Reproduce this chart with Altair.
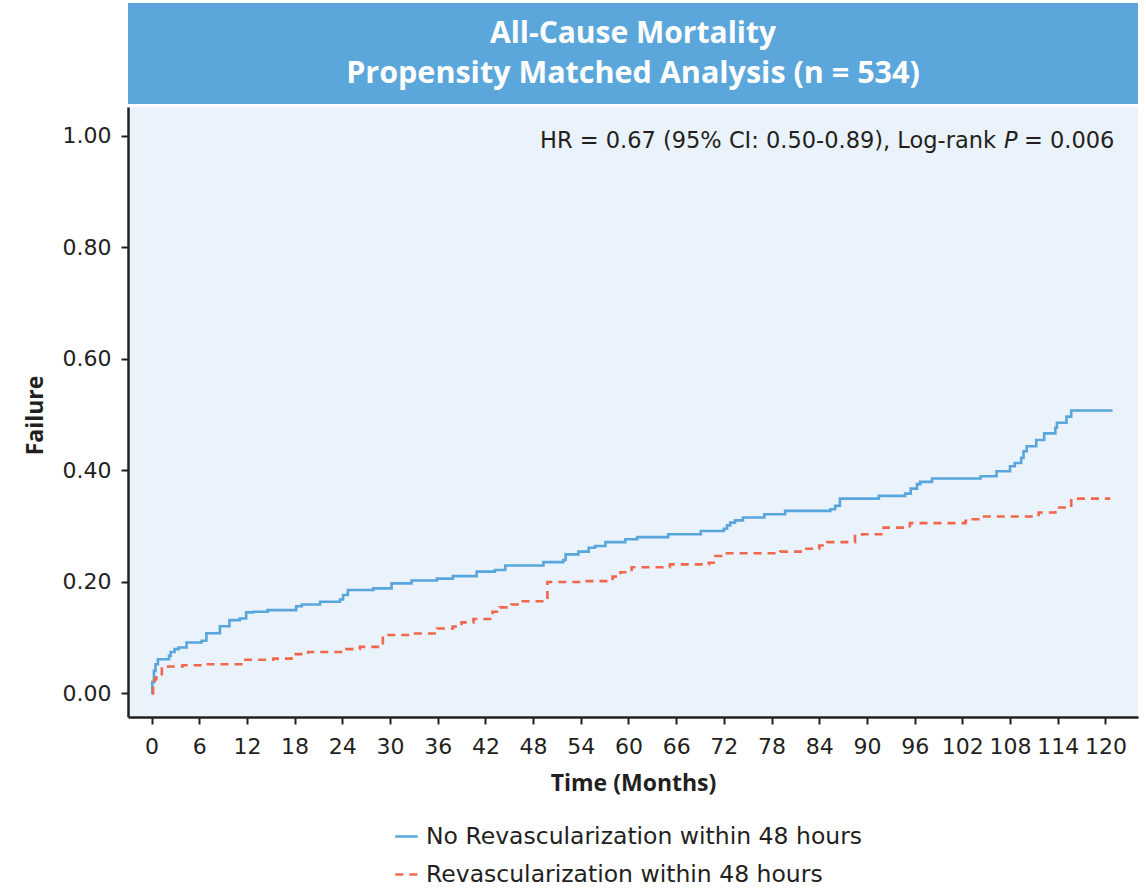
import altair as alt
import pandas as pd

# ---- data (months, cumulative failure) ----
no_rev_t = [0, 0.1, 0.3, 0.5, 0.8, 2.2, 2.4, 2.9, 3.4, 4.4, 6.3, 6.9, 8.6, 9.8, 11.1, 11.9, 12.8,
            14.6, 18.2, 18.9, 21.2, 23.7, 24.1, 24.7, 27.9, 30.2, 32.7, 35.9, 37.9, 40.9, 43.2,
            44.5, 49.3, 51.8, 52.1, 53.7, 55.0, 55.8, 57.1, 59.6, 61.1, 65.0, 69.1, 72.0, 72.4,
            72.8, 73.4, 74.4, 77.1, 79.7, 85.4, 86.0, 86.6, 91.5, 94.8, 95.5, 96.3, 96.7, 98.2,
            104.3, 106.3, 108.0, 108.6, 109.4, 109.7, 110.1, 111.3, 112.3, 113.7, 113.9, 115.1,
            115.7, 120.9]
no_rev_f = [0.0, 0.02, 0.04, 0.052, 0.061, 0.067, 0.074, 0.079, 0.082, 0.091, 0.094, 0.1075, 0.12,
            0.131, 0.134, 0.145, 0.146, 0.149, 0.156, 0.159, 0.164, 0.168, 0.176, 0.185, 0.188,
            0.197, 0.202, 0.2055, 0.210, 0.218, 0.221, 0.229, 0.235, 0.239, 0.249, 0.254, 0.261,
            0.264, 0.271, 0.276, 0.280, 0.285, 0.291, 0.295, 0.301, 0.306, 0.310, 0.315, 0.321,
            0.327, 0.330, 0.336, 0.349, 0.354, 0.358, 0.367, 0.375, 0.379, 0.385, 0.389, 0.398,
            0.407, 0.413, 0.422, 0.434, 0.443, 0.454, 0.466, 0.476, 0.485, 0.496, 0.507, 0.507]

rev_t = [0, 0.2, 0.4, 0.6, 1.3, 2.1, 3.9, 6.9, 11.5, 15.3, 17.6, 19.7, 24.5, 26.2, 29.1, 32.9,
         35.9, 37.9, 39.0, 40.5, 42.9, 43.8, 45.3, 46.3, 49.8, 54.3, 58.0, 59.0, 60.4, 65.2,
         70.1, 70.9, 72.0, 79.1, 82.0, 84.0, 85.0, 88.5, 89.4, 92.1, 95.4, 102.4, 103.0, 104.3,
         111.6, 113.7, 115.7, 120.6]
rev_f = [0.0, 0.013, 0.025, 0.034, 0.044, 0.048, 0.050, 0.052, 0.060, 0.062, 0.070, 0.074, 0.079,
         0.083, 0.1045, 0.107, 0.116, 0.1195, 0.127, 0.133, 0.146, 0.154, 0.159, 0.165, 0.1995,
         0.201, 0.209, 0.217, 0.226, 0.231, 0.234, 0.246, 0.251, 0.254, 0.259, 0.265, 0.271,
         0.282, 0.285, 0.297, 0.305, 0.309, 0.312, 0.317, 0.324, 0.333, 0.349, 0.349]

SERIES = ["No Revascularization within 48 hours", "Revascularization within 48 hours"]
COLORS = ["#58A6DC", "#F0674E"]
DASHES = [[1, 0], [8, 6]]
X_TICKS = list(range(0, 121, 6))
Y_TICKS = [0.0, 0.2, 0.4, 0.6, 0.8, 1.0]
TITLE_LINES = ["All-Cause Mortality", "Propensity Matched Analysis (n = 534)"]
ANNOT = ["HR = 0.67 (95% CI: 0.50-0.89), Log-rank", "P", "= 0.006"]

W, H = 1010, 610
FONT = "DejaVu Sans"
TFONT = "Open Sans"
INK = "#231F20"

df = pd.concat([
    pd.DataFrame({"time": no_rev_t, "failure": no_rev_f, "group": SERIES[0]}),
    pd.DataFrame({"time": rev_t, "failure": rev_f, "group": SERIES[1]}),
])

leg = alt.Legend(title=None, orient="none", legendX=266, legendY=717, direction="vertical",
                 symbolType="stroke", symbolSize=500, symbolStrokeWidth=2.5,
                 labelFont=FONT, labelFontSize=23.5, labelColor=INK, rowPadding=14,
                 labelOffset=7, labelLimit=0)

lines = alt.Chart(df).mark_line(interpolate="step-after", strokeWidth=2.6).encode(
    x=alt.X("time:Q",
            scale=alt.Scale(domain=[-2.96, 124.1], nice=False, zero=False),
            axis=alt.Axis(values=X_TICKS, title="Time (Months)", labelPadding=12,
                          titleX=505, titleY=66, titleBaseline="middle")),
    y=alt.Y("failure:Q",
            scale=alt.Scale(domain=[-0.0427, 1.0514], nice=False, zero=False),
            axis=alt.Axis(values=Y_TICKS, format=".2f", title="Failure", labelPadding=10,
                          titleAngle=270, titleX=-93, titleY=308, titleAlign="center",
                          titleBaseline="middle")),
    color=alt.Color("group:N", scale=alt.Scale(domain=SERIES, range=COLORS), legend=leg),
    strokeDash=alt.StrokeDash("group:N", scale=alt.Scale(domain=SERIES, range=DASHES), legend=leg),
)

one = pd.DataFrame({"k": [0]})
banner = alt.Chart(one).mark_rect(color="#5BA7DB").encode(
    x=alt.value(0), x2=alt.value(W), y=alt.value(-104), y2=alt.value(-3))

t1 = alt.Chart(pd.DataFrame({"s": [TITLE_LINES[0]]})).mark_text(
    font=TFONT, fontSize=30, fontWeight="bold", color="white", baseline="middle").encode(
    x=alt.value(505), y=alt.value(-73), text="s:N")
t2 = alt.Chart(pd.DataFrame({"s": [TITLE_LINES[1]]})).mark_text(
    font=TFONT, fontSize=30.5, fontWeight="bold", color="white", baseline="middle").encode(
    x=alt.value(505), y=alt.value(-33), text="s:N")

a1 = alt.Chart(pd.DataFrame({"s": [ANNOT[0]]})).mark_text(
    font=FONT, fontSize=22.5, color=INK, align="right", baseline="middle").encode(
    x=alt.value(868), y=alt.value(34), text="s:N")
a2 = alt.Chart(pd.DataFrame({"s": [ANNOT[1]]})).mark_text(
    font=FONT, fontSize=22.5, color=INK, fontStyle="italic", align="left", baseline="middle").encode(
    x=alt.value(876), y=alt.value(34), text="s:N")
a3 = alt.Chart(pd.DataFrame({"s": [ANNOT[2]]})).mark_text(
    font=FONT, fontSize=22.5, color=INK, align="left", baseline="middle").encode(
    x=alt.value(896), y=alt.value(34), text="s:N")

chart = alt.layer(banner, t1, t2, a1, a2, a3, lines).properties(
    width=W, height=H,
    autosize=alt.AutoSizeParams(type="none"),
    padding={"left": 128, "top": 107, "right": 8, "bottom": 173},
    background="white",
).configure_view(
    fill="#EAF2FB", stroke=None
).configure_axis(
    grid=False, domainColor=INK, domainWidth=2.5, tickColor=INK, tickWidth=2, tickSize=7,
    labelFont=FONT, labelFontSize=22, labelColor=INK,
    titleFont=TFONT, titleFontSize=23, titleFontWeight="bold", titleColor=INK,
)

chart.save("out.html", embed_options={"renderer": "svg", "actions": False})
